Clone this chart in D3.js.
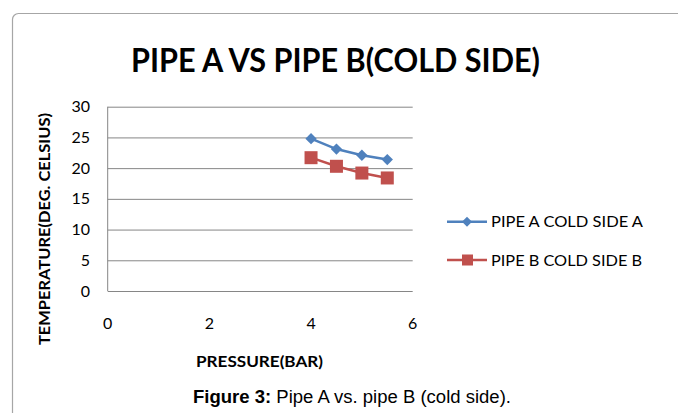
<!DOCTYPE html>
<html lang="en">
<head>
    <script src="https://d3js.org/d3.v7.min.js"></script>
    <style>
        body {
            margin: 0;
            background: #fff;
            font-family: Lato, 'Open Sans', sans-serif;
        }
        .title {
            font-size: 32px;
            font-weight: bold;
            text-anchor: middle;
        }
        .axis-title {
            font-size: 16px;
            font-weight: bold;
            text-anchor: middle;
        }
        .tick-label {
            font-size: 16px;
            fill: #000;
        }
        .legend-text {
            font-size: 15px;
        }
        .caption {
            font-family: 'Liberation Sans', Arial, sans-serif;
            font-size: 17.5px;
            text-anchor: start;
        }
        .grid line {
            stroke: #868686;
            stroke-width: 1px;
        }
    </style>
</head>
<body>
<script>
    // data
    var pressure = [4, 4.5, 5, 5.5];
    var pipeA = [24.8, 23.1, 22.1, 21.4];
    var pipeB = [21.7, 20.3, 19.2, 18.4];
    var seriesNames = ["PIPE A COLD SIDE A", "PIPE B COLD SIDE B"];
    var xTicks = [0, 2, 4, 6];
    var yTicks = [0, 5, 10, 15, 20, 25, 30];

    var width = 678;
    var height = 413;

    var svg = d3.select("body").append("svg")
        .attr("width", width)
        .attr("height", height);

    // outer chart border (rounded, runs off the right and bottom)
    svg.append("rect")
        .attr("x", 12.5)
        .attr("y", 13.5)
        .attr("width", 720)
        .attr("height", 460)
        .attr("rx", 6)
        .attr("fill", "none")
        .attr("stroke", "#a6a6a6")
        .attr("stroke-width", 1.2);

    // plot area
    var x = d3.scaleLinear().domain([0, 6]).range([107.7, 412.7]);
    var y = d3.scaleLinear().domain([0, 30]).range([291, 106.7]);

    // title
    svg.append("text")
        .attr("class", "title")
        .attr("x", 335.5)
        .attr("y", 72)
        .attr("textLength", 409)
        .attr("lengthAdjust", "spacingAndGlyphs")
        .text("PIPE A VS PIPE B(COLD SIDE)");

    // horizontal gridlines
    svg.append("g")
        .attr("class", "grid")
        .attr("transform", "translate(" + x(0) + ",0)")
        .call(d3.axisLeft(y).tickValues(yTicks).tickSize(-(x(6) - x(0))).tickFormat(""))
        .call(g => g.select(".domain").remove());

    // left axis line
    svg.append("line")
        .attr("x1", x(0)).attr("x2", x(0))
        .attr("y1", y(30)).attr("y2", y(0))
        .attr("stroke", "#868686");

    // y tick labels
    svg.append("g")
        .selectAll("text")
        .data(yTicks)
        .enter().append("text")
        .attr("class", "tick-label")
        .attr("x", 90)
        .attr("y", d => y(d) + 5.5)
        .attr("text-anchor", "end")
        .text(d => d);

    // x tick labels
    svg.append("g")
        .selectAll("text")
        .data(xTicks)
        .enter().append("text")
        .attr("class", "tick-label")
        .attr("x", d => x(d))
        .attr("y", 329)
        .attr("text-anchor", "middle")
        .text(d => d);

    // axis titles
    svg.append("text")
        .attr("class", "axis-title")
        .attr("x", 259.5)
        .attr("y", 367)
        .attr("textLength", 127)
        .attr("lengthAdjust", "spacingAndGlyphs")
        .text("PRESSURE(BAR)");

    svg.append("text")
        .attr("class", "axis-title")
        .attr("transform", "translate(50,229) rotate(-90)")
        .attr("textLength", 232)
        .attr("lengthAdjust", "spacingAndGlyphs")
        .text("TEMPERATURE(DEG. CELSIUS)");

    var colors = ["#4F81BD", "#C0504D"];
    var series = [pipeA, pipeB];

    var line = d3.line()
        .x(function(d, i) { return x(pressure[i]); })
        .y(function(d) { return y(d); });

    series.forEach(function(vals, s) {
        svg.append("path")
            .datum(vals)
            .attr("fill", "none")
            .attr("stroke", colors[s])
            .attr("stroke-width", 2.5)
            .attr("d", line);
    });

    // pipe A markers: diamonds
    svg.append("g")
        .selectAll("path")
        .data(pipeA)
        .enter().append("path")
        .attr("transform", (d, i) => "translate(" + x(pressure[i]) + "," + y(d) + ") rotate(45)")
        .attr("d", d3.symbol().type(d3.symbolSquare).size(64))
        .attr("fill", colors[0]);

    // pipe B markers: squares
    svg.append("g")
        .selectAll("rect")
        .data(pipeB)
        .enter().append("rect")
        .attr("x", (d, i) => x(pressure[i]) - 6.5)
        .attr("y", d => y(d) - 6.5)
        .attr("width", 13)
        .attr("height", 13)
        .attr("fill", colors[1]);

    // legend
    var legendY = [221.7, 260];
    var legend = svg.append("g");
    seriesNames.forEach(function(name, s) {
        var ly = legendY[s];
        legend.append("line")
            .attr("x1", 447).attr("x2", 487)
            .attr("y1", ly).attr("y2", ly)
            .attr("stroke", colors[s])
            .attr("stroke-width", 2.5);
        if (s === 0) {
            legend.append("path")
                .attr("transform", "translate(467," + ly + ") rotate(45)")
                .attr("d", d3.symbol().type(d3.symbolSquare).size(50))
                .attr("fill", colors[s]);
        } else {
            legend.append("rect")
                .attr("x", 462).attr("y", ly - 5.5)
                .attr("width", 11).attr("height", 11)
                .attr("fill", colors[s]);
        }
        legend.append("text")
            .attr("class", "legend-text")
            .attr("x", 491)
            .attr("y", ly + 5.5)
            .attr("textLength", s === 0 ? 152 : 151)
            .attr("lengthAdjust", "spacingAndGlyphs")
            .text(name);
    });

    // figure caption
    var cap = svg.append("text")
        .attr("class", "caption")
        .attr("x", 193)
        .attr("y", 403)
        .attr("textLength", 318)
        .attr("lengthAdjust", "spacingAndGlyphs");
    cap.append("tspan").attr("font-weight", "bold").text("Figure 3:");
    cap.append("tspan").text(" Pipe A vs. pipe B (cold side).");
</script>
</body>
</html>
